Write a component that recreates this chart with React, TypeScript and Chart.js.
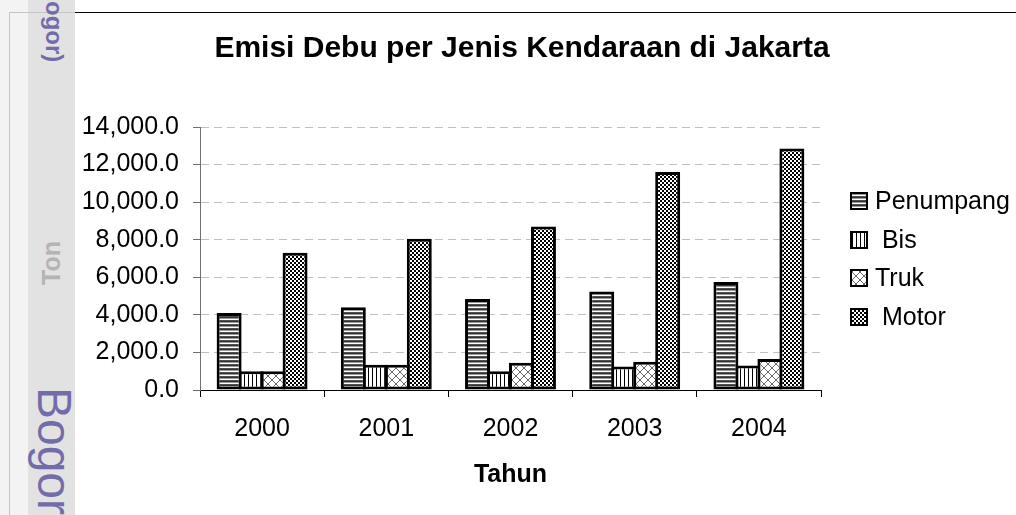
import React, { useEffect, useRef } from 'react';
import { Chart, registerables } from 'chart.js';

Chart.register(...registerables);

// ---------------- data ----------------
const TITLE = 'Emisi Debu per Jenis Kendaraan di Jakarta';
const X_TITLE = 'Tahun';
const YEARS = ['2000', '2001', '2002', '2003', '2004'];
const SERIES_LABELS = ['Penumpang', ' Bis', 'Truk', ' Motor'];
const PENUMPANG = [4100, 4400, 4850, 5250, 5750];
const BIS = [1000, 1350, 1000, 1250, 1300];
const TRUK = [1000, 1350, 1450, 1500, 1650];
const MOTOR = [7300, 8050, 8700, 11600, 12850];
const Y_MAX = 14000;
const Y_STEP = 2000;

// ---------------- style ----------------
const FONT = '"Liberation Sans", Arial, Helvetica, sans-serif';
const CANVAS_LEFT = 28;
const CANVAS_W = 988;
const CANVAS_H = 515;
const PURPLE = '#736cab';

function makePattern(kind: string): CanvasPattern {
  const c = document.createElement('canvas');
  const x = c.getContext('2d') as CanvasRenderingContext2D;
  if (kind === 'hstripe') {
    c.width = 4; c.height = 4;
    const rows = ['#505050', '#333333', '#9a9a9a', '#ffffff'];
    rows.forEach((col, i) => { x.fillStyle = col; x.fillRect(0, i, 4, 1); });
  } else if (kind === 'vstripe') {
    c.width = 4; c.height = 4;
    x.fillStyle = '#ffffff'; x.fillRect(0, 0, 4, 4);
    x.fillStyle = '#000000'; x.fillRect(0, 0, 1, 4);
  } else if (kind === 'lattice') {
    c.width = 8; c.height = 8;
    x.fillStyle = '#ffffff'; x.fillRect(0, 0, 8, 8);
    x.fillStyle = '#6a6a6a';
    for (let i = 0; i < 8; i++) { x.fillRect(i, i, 1, 1); x.fillRect(7 - i, i, 1, 1); }
  } else {
    c.width = 4; c.height = 4;
    x.fillStyle = '#ffffff'; x.fillRect(0, 0, 4, 4);
    x.fillStyle = '#000000'; x.fillRect(0, 0, 2, 2); x.fillRect(2, 2, 2, 2);
  }
  return x.createPattern(c, 'repeat') as CanvasPattern;
}

const titlePlugin = {
  id: 'customTitle',
  afterDraw(chart: any) {
    const ctx = chart.ctx as CanvasRenderingContext2D;
    ctx.save();
    ctx.font = `bold 30px ${FONT}`;
    ctx.fillStyle = '#000';
    ctx.textAlign = 'center';
    ctx.textBaseline = 'middle';
    ctx.fillText(TITLE, chart.width / 2, 49);
    ctx.restore();
  },
};

const legendPlugin = {
  id: 'sideLegend',
  afterDraw(chart: any) {
    const ctx = chart.ctx as CanvasRenderingContext2D;
    const boxX = 823;
    const textX = 847;
    const top = 201;
    const gap = 38.7;
    ctx.save();
    ctx.font = `25px ${FONT}`;
    ctx.textAlign = 'left';
    ctx.textBaseline = 'middle';
    chart.data.datasets.forEach((d: any, i: number) => {
      const cy = Math.round(top + i * gap);
      ctx.fillStyle = d.backgroundColor;
      ctx.fillRect(boxX, cy - 8, 16, 16);
      ctx.strokeStyle = '#000';
      ctx.lineWidth = 2;
      ctx.strokeRect(boxX, cy - 8, 16, 16);
      ctx.fillStyle = '#000';
      ctx.fillText(d.label, textX, cy + 1);
    });
    ctx.restore();
  },
};

function ChartCanvas() {
  const ref = useRef<HTMLCanvasElement | null>(null);
  useEffect(() => {
    if (!ref.current) return;
    Chart.defaults.font.family = FONT;
    const series = [PENUMPANG, BIS, TRUK, MOTOR];
    const kinds = ['hstripe', 'vstripe', 'lattice', 'checker'];
    const chart = new Chart(ref.current, {
      type: 'bar',
      data: {
        labels: YEARS,
        datasets: series.map((vals, i) => ({
          label: SERIES_LABELS[i],
          data: vals,
          backgroundColor: makePattern(kinds[i]),
          borderColor: '#000',
          borderWidth: 3,
          borderSkipped: false,
          categoryPercentage: 0.708,
          barPercentage: 1.136,
        })),
      },
      options: {
        responsive: false,
        animation: false,
        devicePixelRatio: 1,
        layout: { padding: { top: 127, right: 195, bottom: 0, left: 0 } },
        plugins: {
          legend: { display: false },
          title: { display: false },
          tooltip: { enabled: false },
        },
        scales: {
          x: {
            offset: true,
            grid: {
              display: true,
              drawOnChartArea: false,
              drawTicks: true,
              tickLength: 7,
              tickColor: '#000',
              tickWidth: 1,
              offset: true,
            },
            border: { display: true, color: '#000', width: 1 },
            ticks: { color: '#000', font: { size: 25 }, padding: 17 },
            title: {
              display: true,
              text: X_TITLE,
              color: '#000',
              font: { size: 25, weight: 'bold' },
              padding: { top: 0, bottom: 25 },
            },
            afterFit: (s: any) => { s.height = 125; },
          } as any,
          y: {
            min: 0,
            max: Y_MAX,
            ticks: {
              stepSize: Y_STEP,
              color: '#000',
              font: { size: 25 },
              padding: 14,
              callback: (v: any) => Number(v).toLocaleString('en-US', { minimumFractionDigits: 1, maximumFractionDigits: 1 }),
            },
            grid: {
              color: (c: any) => (c.tick && c.tick.value === 0 ? 'rgba(0,0,0,0)' : '#c0c0c0'),
              tickColor: '#707070',
              tickLength: 7,
              lineWidth: 1,
            },
            border: { display: true, color: '#707070', width: 1, dash: [8, 5] },
            afterFit: (s: any) => { s.width = 172; },
          } as any,
        },
      },
      plugins: [titlePlugin, legendPlugin],
    });
    return () => chart.destroy();
  }, []);
  return (
    <canvas
      ref={ref}
      width={CANVAS_W}
      height={CANVAS_H}
      style={{ position: 'absolute', left: CANVAS_LEFT, top: 0, width: CANVAS_W, height: CANVAS_H }}
    />
  );
}

function rotated(text: string, cx: number, cy: number, deg: number, style: React.CSSProperties) {
  return (
    <div
      style={{
        position: 'absolute',
        left: cx,
        top: cy,
        whiteSpace: 'nowrap',
        lineHeight: 1,
        fontFamily: FONT,
        transform: `translate(-50%, -50%) rotate(${deg}deg)`,
        ...style,
      }}
    >
      {text}
    </div>
  );
}

export default function App() {
  return (
    <div
      style={{
        position: 'fixed',
        left: 0,
        top: 0,
        width: 1016,
        height: 515,
        background: '#ffffff',
        overflow: 'hidden',
      }}
    >
      <div style={{ position: 'absolute', left: 0, top: 0, width: 28, height: 515, background: '#f3f3f3' }} />
      <div style={{ position: 'absolute', left: 28, top: 0, width: 47, height: 515, background: '#e2e2e2' }} />
      <div style={{ position: 'absolute', left: 9, top: 12, width: 1, height: 503, background: '#c4c4c4' }} />
      <div style={{ position: 'absolute', left: 9, top: 12, width: 66, height: 1, background: '#c4c4c4' }} />
      <div style={{ position: 'absolute', left: 75, top: 12, width: 941, height: 1, background: '#000' }} />
      {rotated('(Bogor)', 53.5, 18.5, 90, { color: PURPLE, fontWeight: 'bold', fontSize: 24 })}
      {rotated('Ton', 51, 263, -90, { color: '#b4b4b4', fontWeight: 'bold', fontSize: 25 })}
      {rotated('Bogor', 53.5, 451, 90, { color: PURPLE, fontSize: 48 })}
      <ChartCanvas />
    </div>
  );
}
